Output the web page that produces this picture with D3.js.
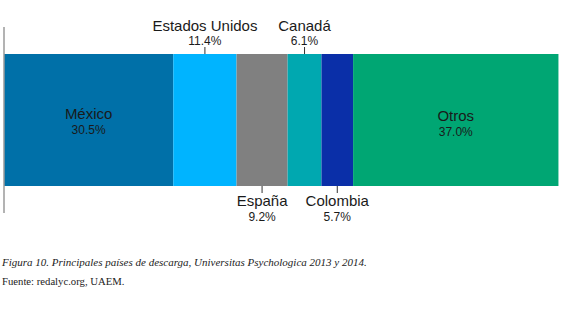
<!DOCTYPE html>
<html>
<head>
<meta charset="utf-8">
<script src="https://cdn.jsdelivr.net/npm/d3@7"></script>
<style>
  body { margin: 0; background: #fff; }
  svg { display: block; }
  .lbl { font-family: "Liberation Sans", Arial, sans-serif; fill: #1a1a1a; }
  .cap { font-family: "Liberation Serif", "Times New Roman", serif; fill: #222; }
</style>
</head>
<body>
<div id="chart"></div>
<script>
// countries and share of downloads (%)
const countries = ["México", "Estados Unidos", "España", "Canadá", "Colombia", "Otros"];
const shares = [30.5, 11.4, 9.2, 6.1, 5.7, 37.0];
// where each label goes: inside the bar, above it or below it
const placement = ["in", "top", "bottom", "top", "bottom", "in"];
const colors = ["#0070a8", "#00b4ff", "#808080", "#00a8b0", "#0a2fa8", "#00a673"];

const width = 580, height = 310;
const barTop = 54, barBottom = 186;

const svg = d3.select("#chart")
  .append("svg")
  .attr("width", width)
  .attr("height", height);

const x = d3.scaleLinear().domain([0, 100]).range([4, 559]);

// cumulative starts
let acc = 0;
const segs = countries.map((c, i) => {
  const s = { name: c, value: shares[i], start: acc, pos: placement[i], color: colors[i] };
  acc += shares[i];
  return s;
});

svg.selectAll("rect.seg")
  .data(segs)
  .enter()
  .append("rect")
  .attr("class", "seg")
  .attr("x", d => x(d.start))
  .attr("y", barTop)
  .attr("width", d => x(d.start + d.value) - x(d.start))
  .attr("height", barBottom - barTop)
  .attr("fill", d => d.color);

// left baseline
svg.append("line")
  .attr("x1", x(0)).attr("x2", x(0))
  .attr("y1", 27).attr("y2", 213)
  .attr("stroke", "#9a9a9a")
  .attr("stroke-width", 1.5);

const fmt = v => v.toFixed(1) + "%";
const cx = d => x(d.start + d.value / 2);

const lab = svg.selectAll("g.lab")
  .data(segs)
  .enter()
  .append("g")
  .attr("class", "lab");

// label offsets per placement
const nameY = { in: 119, top: 31, bottom: 206 };
const pctY = { in: 134, top: 45, bottom: 221 };

lab.append("text")
  .attr("class", "lbl")
  .attr("x", cx)
  .attr("y", d => nameY[d.pos] + (d.name === "Otros" ? 2 : 0))
  .attr("text-anchor", "middle")
  .style("font-size", "15px")
  .text(d => d.name);

lab.append("text")
  .attr("class", "lbl")
  .attr("x", cx)
  .attr("y", d => pctY[d.pos] + (d.name === "Otros" ? 2 : 0))
  .attr("text-anchor", "middle")
  .style("font-size", "12px")
  .text(d => fmt(d.value));

// ticks for outside labels
lab.filter(d => d.pos !== "in")
  .append("line")
  .attr("x1", cx).attr("x2", cx)
  .attr("y1", d => d.pos === "top" ? 47 : barBottom)
  .attr("y2", d => d.pos === "top" ? barTop : 193)
  .attr("stroke", "#333")
  .attr("stroke-width", 1);

svg.append("text")
  .attr("class", "cap")
  .attr("x", 2)
  .attr("y", 266)
  .style("font-size", "11px")
  .style("font-style", "italic")
  .text("Figura 10. Principales países de descarga, Universitas Psychologica 2013 y 2014.");

svg.append("text")
  .attr("class", "cap")
  .attr("x", 2)
  .attr("y", 285)
  .style("font-size", "10.7px")
  .text("Fuente: redalyc.org, UAEM.");
</script>
</body>
</html>
